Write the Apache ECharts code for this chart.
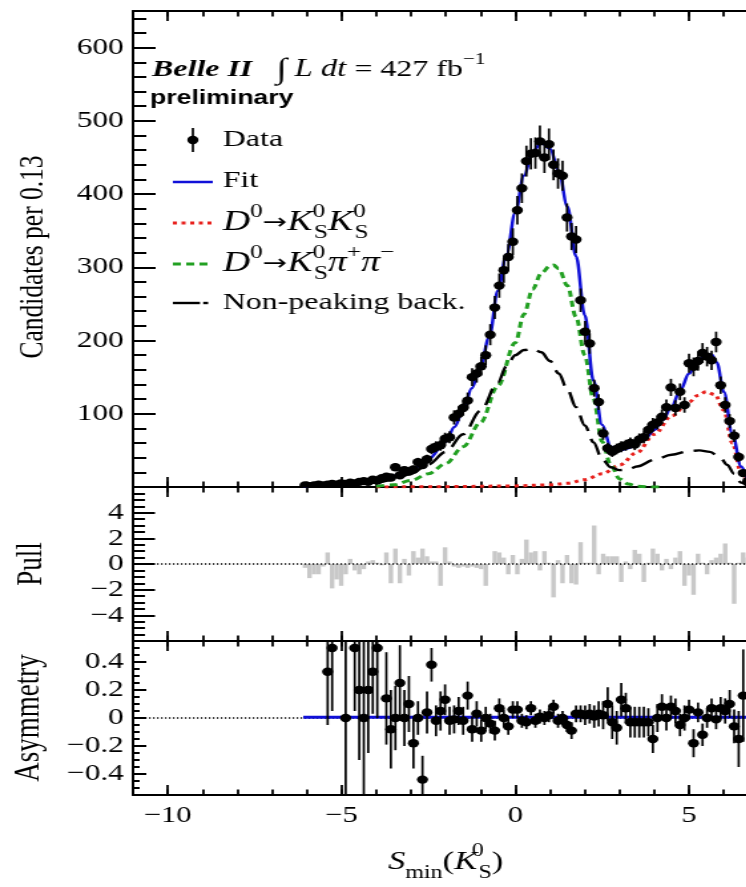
<!DOCTYPE html>
<html><head><meta charset="utf-8">
<script src="https://cdn.jsdelivr.net/npm/echarts@6/dist/echarts.min.js"></script>
<style>
html,body{margin:0;padding:0;background:#fff;overflow:hidden;width:746px;height:887px;}
#wrap{width:746px;height:887px;overflow:hidden;position:relative;background:#fff;}
#chart{width:600px;height:887px;transform:scaleX(1.33);transform-origin:0 0;}
</style></head><body><div id="wrap"><div id="chart"></div></div>
<script>
// ---------------- DATA ----------------
const binX = [-6.05,-5.92,-5.79,-5.66,-5.53,-5.40,-5.27,-5.14,-5.01,-4.88,
 -4.75,-4.62,-4.49,-4.36,-4.23,-4.10,-3.97,-3.84,-3.71,-3.58,
 -3.45,-3.32,-3.19,-3.06,-2.93,-2.80,-2.67,-2.54,-2.41,-2.28,
 -2.15,-2.02,-1.89,-1.76,-1.63,-1.50,-1.37,-1.24,-1.11,-0.98,
 -0.85,-0.72,-0.59,-0.46,-0.33,-0.20,-0.07,0.06,0.19,0.32,
 0.45,0.58,0.71,0.84,0.97,1.10,1.23,1.36,1.49,1.62,
 1.75,1.88,2.01,2.14,2.27,2.40,2.53,2.66,2.79,2.92,
 3.05,3.18,3.31,3.44,3.57,3.70,3.83,3.96,4.09,4.22,
 4.35,4.48,4.61,4.74,4.87,5.00,5.13,5.26,5.39,5.52,
 5.65,5.78,5.91,6.04,6.17,6.30,6.43,6.56,6.69,6.82];
const binWidth = 0.13;
const counts = [2,1,2,3,2,3,4,3,5,4,
 6,5,7,8,7,10,9,12,14,13,
 27,16,23,21,24,34,30,38,52,55,
 57,66,68,95,100,108,118,150,155,165,
 180,208,245,275,296,314,335,378,408,445,
 455,456,472,450,468,440,428,425,368,342,
 338,255,212,196,135,116,73,53,48,52,
 55,57,60,58,65,68,78,85,88,96,
 109,136,108,130,112,169,164,172,183,178,
 173,198,139,112,90,70,41,19,8,3];
const countErr = [1.4,1,1.4,1.7,1.4,1.7,2,1.7,2.2,2,
 2.4,2.2,2.6,2.8,2.6,3.2,3,3.5,3.7,3.6,
 5.2,4,4.8,4.6,4.9,5.8,5.5,6.2,7.2,7.4,
 7.5,8.1,8.2,9.7,10,10.4,10.9,12.2,12.4,12.8,
 13.4,14.4,15.7,16.6,17.2,17.7,18.3,19.4,20.2,21.1,
 21.3,21.4,21.7,21.2,21.6,21,20.7,20.6,19.2,18.5,
 18.4,16,14.6,14,11.6,10.8,8.5,7.3,6.9,7.2,
 7.4,7.5,7.7,7.6,8.1,8.2,8.8,9.2,9.4,9.8,
 10.4,11.7,10.4,11.4,10.6,13,12.8,13.1,13.5,13.3,
 13.2,14.1,11.8,10.6,9.5,8.4,6.4,4.4,2.8,1.7];
const pulls = [-0.3,-1.1,-0.8,-0.8,-0.2,0.9,-1.9,-1.2,-1.7,-0.8,
 0.4,-0.5,-0.8,-0.4,0.2,0.3,0.1,-0.1,0.9,-1.5,
 1.2,-1.5,0.4,-0.9,1.0,0.5,1.2,0.6,0.2,0.2,
 -1.7,1.3,0.2,-0.2,-0.3,-0.2,-0.3,-0.2,-0.3,-0.4,
 -1.7,0.0,1.0,0.9,0.5,-0.8,0.7,-0.8,0.4,1.9,
 0.9,1.0,-0.5,1.0,0.1,-2.6,0.3,-1.5,0.7,-1.5,
 -1.6,1.7,0.1,0.1,3.0,-0.8,0.8,0.6,0.6,0.6,
 -1.4,0.2,-0.4,1.1,0.8,-1.4,0.1,1.2,0.8,-0.5,
 0.4,-0.4,0.5,1.0,-1.7,-0.9,-2.4,0.8,0.1,-0.8,
 0.3,0.5,0.8,1.6,0.1,-3.1,0.1,0.9,0.5,0.2];
const asym = [null,null,null,null,null,0.33,0.5,null,null,0.0,
 null,0.5,0.2,0.0,0.2,0.33,0.5,null,0.14,-0.08,
 0,0.25,0,0.1,-0.18,0,-0.44,0.04,0.38,-0.02,
 0.05,0.13,-0.02,-0.01,0.05,-0.02,0.16,-0.08,0.03,-0.09,
 0,-0.04,-0.09,0.07,0,-0.06,0.06,0.06,-0.02,-0.03,
 0.07,-0.02,0.01,0.0,0.02,0.08,-0.02,0.0,-0.05,-0.09,
 0.03,0.03,0.02,0.03,0.01,0.03,0.02,0.1,-0.03,-0.07,
 0.13,0.07,-0.03,-0.03,-0.03,-0.03,-0.03,-0.15,0,0.08,
 0,0.08,0.05,-0.05,0,0.06,-0.18,0.04,-0.12,0,
 0.07,-0.01,0.07,0.05,0.1,-0.06,-0.15,0.16,null,null];
const asymErr = [null,null,null,null,null,0.38,0.45,null,null,1.0,
 null,0.45,0.5,0.7,0.45,0.3,0.5,null,0.33,0.28,
 0.23,0.27,0.2,0.2,0.18,0.12,0.17,0.15,0.12,0.11,
 0.14,0.11,0.1,0.1,0.1,0.1,0.1,0.09,0.09,0.08,
 0.08,0.07,0.07,0.07,0.06,0.06,0.06,0.06,0.05,0.05,
 0.05,0.05,0.05,0.05,0.05,0.05,0.05,0.05,0.05,0.06,
 0.06,0.06,0.07,0.07,0.08,0.09,0.1,0.12,0.12,0.12,
 0.12,0.11,0.11,0.11,0.11,0.11,0.1,0.1,0.1,0.09,
 0.09,0.08,0.09,0.08,0.09,0.07,0.1,0.07,0.08,0.07,
 0.07,0.07,0.08,0.09,0.1,0.12,0.2,0.33,null,null];

const fitX = [-6.1,-5.5,-5,-4.5,-4,-3.5,-3,-2.5,-2,-1.75,-1.5,-1.25,-1,-0.75,-0.5,-0.25,0,0.25,0.5,0.75,1.0,1.25,1.5,1.75,2.0,2.25,2.5,2.75,3.0,3.25,3.5,3.75,4.0,4.25,4.5,4.75,5.0,5.25,5.5,5.65,5.8,6.0,6.25,6.5,6.75,7.0];
const fitY = [1.5,2.5,3.5,5.5,9,15,23,38,62,82,105,135,165,205,268,318,375,425,458,470,462,432,383,315,235,145,85,55,50,53,59,67,78,92,110,132,155,172,181,181,170,130,72,28,7,1];
const ksksX = [-4,-2,0,1,1.5,2,2.5,3,3.5,4,4.5,5,5.25,5.5,5.75,6,6.25,6.5,6.7];
const ksksY = [0,0.5,1.5,3,5,10,18,30,47,72,97,116,125,130,126,105,60,20,3];
const kspipiX = [-4,-3.5,-3,-2.5,-2,-1.5,-1,-0.5,0,0.25,0.5,0.75,1.0,1.1,1.25,1.5,1.75,2.0,2.25,2.5,2.75,3.0,3.25,3.5,4.0,4.3];
const kspipiY = [1,3,9,18,32,55,88,138,197,236,270,292,302,303,298,275,232,180,120,62,30,11,4,1,0,0];
const bkgX = [-6.1,-5,-4,-3.5,-3,-2.5,-2,-1.5,-1,-0.5,-0.25,0,0.25,0.5,0.75,1.0,1.25,1.5,1.75,2.0,2.25,2.5,2.75,3.0,3.25,3.5,4.0,4.5,5.0,5.3,5.6,5.9,6.1,6.3,6.5,6.7];
const bkgY = [1,3,6,10,18,31,48,72,104,143,165,180,187,189,184,172,155,133,109,84,61,38,27,23,24,28,37,44,49,50,48,40,30,18,6,0];
const asymFitX = [-6.1, 7];
const asymFitY = [0.005, 0.005];

const xTickLabels = ['−10','−5','0','5'];
const mainYLabels = ['100','200','300','400','500','600'];

// ---------------- LAYOUT ----------------
const SERIF = '"Liberation Serif","Times New Roman",serif';
const SANS = '"Liberation Sans",Arial,sans-serif';
const GL = 100, GW = 470.3;
const fmtMinus = v => (v < 0 ? '−' + String(Math.abs(v)) : String(v));
const pairs = (xs, ys) => xs.map((x, i) => [x, ys[i]]);

function xAxesFor(g, withLabels) {
  const base = {type:'value', gridIndex:g, min:-11, max:7, splitLine:{show:false},
    axisLine:{onZero:false, lineStyle:{color:'#000', width:2}}, axisLabel:{show:false}};
  const major = {...base, splitNumber:4, axisTick:{inside:true, length:10, lineStyle:{color:'#000', width:1.8}}};
  const minor = {...base, interval:1, axisLine:{show:false, onZero:false}, axisTick:{inside:true, length:5.5, lineStyle:{color:'#000', width:1.8}}};
  const bottomMajor = {...major, position:'bottom'};
  if (withLabels) {
    bottomMajor.axisLabel = {show:true, margin:9, color:'#000', fontFamily:SERIF, fontSize:23,
      formatter: v => { const k = [-10,-5,0,5].indexOf(v); return k >= 0 ? xTickLabels[k] : ''; }};
    bottomMajor.name = '{i|S}{sub|min}{n|(}{i|K}{sup|0}{sub|S}{n|)}';
    bottomMajor.nameLocation = 'middle';
    bottomMajor.nameGap = 47;
    bottomMajor.nameTextStyle = {color:'#000', fontFamily:SERIF, rich:{
      i:{fontFamily:SERIF, fontStyle:'italic', fontSize:26, lineHeight:40, color:'#000'},
      n:{fontFamily:SERIF, fontSize:26, lineHeight:40, color:'#000'},
      sub:{fontFamily:SERIF, fontSize:18, verticalAlign:'bottom', lineHeight:18, color:'#000'},
      sup:{fontFamily:SERIF, fontSize:18, verticalAlign:'top', lineHeight:18, width:1, color:'#000'}
    }};
  }
  return [bottomMajor, {...minor, position:'bottom'}, {...major, position:'top'}, {...minor, position:'top'}];
}

function yAxesFor(g, min, max, majorCfg, minorInterval, majLen, minLen, labelFmt, name, nameGap, nameSize) {
  const base = {type:'value', gridIndex:g, min, max, position:'left', splitLine:{show:false},
    axisLine:{onZero:false, lineStyle:{color:'#000', width:2}}};
  const major = {...base, ...majorCfg,
    axisTick:{inside:true, length:majLen, lineStyle:{color:'#000', width:2}},
    axisLabel:{show:true, margin:7, color:'#000', fontFamily:SERIF, fontSize:23.5, formatter:labelFmt},
    name, nameLocation:'middle', nameRotate:90, nameGap,
    nameTextStyle:{color:'#000', fontFamily:SERIF, fontSize:nameSize}};
  const minor = {...base, interval:minorInterval, axisLine:{show:false, onZero:false},
    axisTick:{inside:true, length:minLen, lineStyle:{color:'#000', width:2}}, axisLabel:{show:false}};
  return [major, minor];
}

const xAxis = [...xAxesFor(0,false), ...xAxesFor(1,false), ...xAxesFor(2,true)];
const yAxis = [
  ...yAxesFor(0, 0, 650, {interval:100}, 20, 17, 10,
     v => { const k = [100,200,300,400,500,600].indexOf(v); return k >= 0 ? mainYLabels[k] : ''; },
     '', 63, 25.5),
  ...yAxesFor(1, -6, 6, {interval:2}, 0.5, 16.5, 9,
     v => (Math.abs(v) <= 4.001 ? fmtMinus(v) : ''), 'Pull', 63, 27),
  ...yAxesFor(2, -0.55, 0.55, {splitNumber:5}, 0.05, 10, 5,
     v => (Math.abs(v) <= 0.45 ? fmtMinus(Math.round(v*10)/10) : ''), 'Asymmetry', 65, 27)
];

function pointsRender(params, api) {
  const x = api.value(0), y = api.value(1), e = api.value(2);
  const p = api.coord([x, y]);
  const lo = api.coord([x, y - e]);
  const hi = api.coord([x, y + e]);
  return {type:'group', children:[
    {type:'line', shape:{x1:p[0], y1:lo[1], x2:p[0], y2:hi[1]}, style:{stroke:'#000', lineWidth:1.7}},
    {type:'circle', shape:{cx:p[0], cy:p[1], r:4.2}, style:{fill:'#000'}}
  ]};
}
function barRender(params, api) {
  const x = api.value(0), v = api.value(1);
  const a = api.coord([x - binWidth/2, 0]);
  const b = api.coord([x + binWidth/2, v]);
  return {type:'rect', shape:{x:a[0], y:Math.min(a[1], b[1]), width:b[0]-a[0], height:Math.abs(b[1]-a[1])},
    style:{fill:'#c8c8c8'}};
}

const mainPts = binX.map((x, i) => [x, counts[i], countErr[i]]);
const pullBars = binX.map((x, i) => [x, pulls[i]]);
const asymPts = binX.map((x, i) => [x, asym[i], asymErr[i]]).filter(d => d[1] !== null);

const lineSeries = (xs, ys, color, width, dash, z) => ({
  type:'line', xAxisIndex:0, yAxisIndex:0, data:pairs(xs, ys), smooth:0.35, smoothMonotone:'x',
  showSymbol:false, symbol:'none', clip:true, z,
  lineStyle:{color, width, type:dash, cap:'butt'}, silent:true, animation:false
});

const series = [
  lineSeries(ksksX, ksksY, '#e8201c', 3, [3,3.5], 3),
  lineSeries(kspipiX, kspipiY, '#22a022', 3, [6,4], 3),
  lineSeries(bkgX, bkgY, '#000', 2.4, [17,8], 3),
  lineSeries(fitX, fitY, '#1010d8', 2.5, 'solid', 4),
  {type:'custom', xAxisIndex:0, yAxisIndex:0, data:mainPts, renderItem:pointsRender, clip:true, z:5, animation:false},
  {type:'custom', xAxisIndex:4, yAxisIndex:2, data:pullBars, renderItem:barRender, clip:true, z:3, animation:false},
  {type:'line', xAxisIndex:4, yAxisIndex:2, data:[[-11,0],[7,0]], symbol:'none', z:4, animation:false,
   lineStyle:{color:'#000', width:1.3, type:[1.2,1.8]}},
  {type:'line', xAxisIndex:8, yAxisIndex:4, data:[[-11,0],[7,0]], symbol:'none', z:3, animation:false,
   lineStyle:{color:'#000', width:1.3, type:[1.2,1.8]}},
  {type:'line', xAxisIndex:8, yAxisIndex:4, data:pairs(asymFitX, asymFitY), symbol:'none', z:4, animation:false,
   lineStyle:{color:'#1010d8', width:3}},
  {type:'custom', xAxisIndex:8, yAxisIndex:4, data:asymPts, renderItem:pointsRender, clip:true, z:5, animation:false}
];

// legend drawn as graphic (pre-scale coordinates)
const LX1 = 130, LX2 = 160, TX = 167.5;
const legFont = {fontFamily:SERIF, fontSize:24, fill:'#000'};
const richLeg = {
  i:{fontFamily:SERIF, fontStyle:'italic', fontSize:28.5, lineHeight:40, fill:'#000'},
  n:{fontFamily:SERIF, fontSize:28.5, lineHeight:40, fill:'#000'},
  ar:{fontFamily:'"DejaVu Sans",sans-serif', fontSize:22, lineHeight:40, fill:'#000'},
  sup:{fontFamily:SERIF, fontSize:19, verticalAlign:'top', lineHeight:19, fill:'#000'},
  supw:{fontFamily:SERIF, fontSize:19, verticalAlign:'top', lineHeight:19, width:1, fill:'#000'},
  sub:{fontFamily:SERIF, fontSize:19, verticalAlign:'bottom', lineHeight:19, fill:'#000'}
};
const graphic = [
  {type:'text', x:24.8, y:257, rotation:Math.PI/2,
   style:{text:'Candidates per 0.13', align:'center', verticalAlign:'middle', fontFamily:SERIF, fontSize:25.5, fill:'#000'}},
  {type:'text', x:114.3, y:70, style:{text:'{b|Belle II}   {int|∫}{i|L dt} = 427 fb{sup|−1}',
    verticalAlign:'middle', fontFamily:SERIF, fontSize:24, fill:'#000',
    rich:{b:{fontFamily:SERIF, fontWeight:'bold', fontStyle:'italic', fontSize:24, lineHeight:36, fill:'#000'},
          int:{fontFamily:SERIF, fontSize:29, lineHeight:36, fill:'#000', padding:[0,6,0,0]},
          i:{fontFamily:SERIF, fontStyle:'italic', fontSize:24.5, lineHeight:36, fill:'#000'},
          sup:{fontFamily:SERIF, fontSize:16, verticalAlign:'top', lineHeight:16, fill:'#000'}}}},
  {type:'text', x:112.8, y:98, style:{text:'preliminary', verticalAlign:'middle', fontFamily:SANS, fontWeight:'bold', fontSize:20, fill:'#000'}},
  // Data marker
  {type:'line', shape:{x1:145, y1:128, x2:145, y2:152}, style:{stroke:'#000', lineWidth:1.7}},
  {type:'circle', shape:{cx:145, cy:140, r:4.2}, style:{fill:'#000'}},
  {type:'text', x:TX, y:140, style:{text:'Data', verticalAlign:'middle', ...legFont}},
  // Fit
  {type:'line', shape:{x1:LX1, y1:182, x2:LX2, y2:182}, style:{stroke:'#1010d8', lineWidth:2.5}},
  {type:'text', x:TX, y:181, style:{text:'Fit', verticalAlign:'middle', ...legFont}},
  // KsKs
  {type:'line', shape:{x1:LX1, y1:223, x2:LX2, y2:223}, style:{stroke:'#e8201c', lineWidth:3, lineDash:[3,3.5]}},
  {type:'text', x:TX, y:223, style:{text:'{i|D}{sup|0}{ar|→}{i|K}{supw|0}{sub|S}{i|K}{supw|0}{sub|S}', verticalAlign:'middle', ...legFont, rich:richLeg}},
  // Kspipi
  {type:'line', shape:{x1:LX1, y1:264, x2:LX2, y2:264}, style:{stroke:'#22a022', lineWidth:3, lineDash:[6,4]}},
  {type:'text', x:TX, y:264, style:{text:'{i|D}{sup|0}{ar|→}{i|K}{supw|0}{sub|S}{i|π}{sup|+}{i|π}{sup|−}', verticalAlign:'middle', ...legFont, rich:richLeg}},
  // Non-peaking
  {type:'line', shape:{x1:LX1, y1:303, x2:150.4, y2:303}, style:{stroke:'#000', lineWidth:2.4}},
  {type:'line', shape:{x1:152.8, y1:303, x2:156.5, y2:303}, style:{stroke:'#000', lineWidth:2.4}},
  {type:'text', x:TX, y:303, style:{text:'Non-peaking back.', verticalAlign:'middle', ...legFont}}
];

const chart = echarts.init(document.getElementById('chart'), null, {renderer:'canvas'});
chart.setOption({
  animation:false,
  backgroundColor:'#fff',
  grid:[
    {left:GL, top:11, width:GW, height:476},
    {left:GL, top:487, width:GW, height:154},
    {left:GL, top:641, width:GW, height:154}
  ],
  xAxis, yAxis, series, graphic
});
</script></body></html>
